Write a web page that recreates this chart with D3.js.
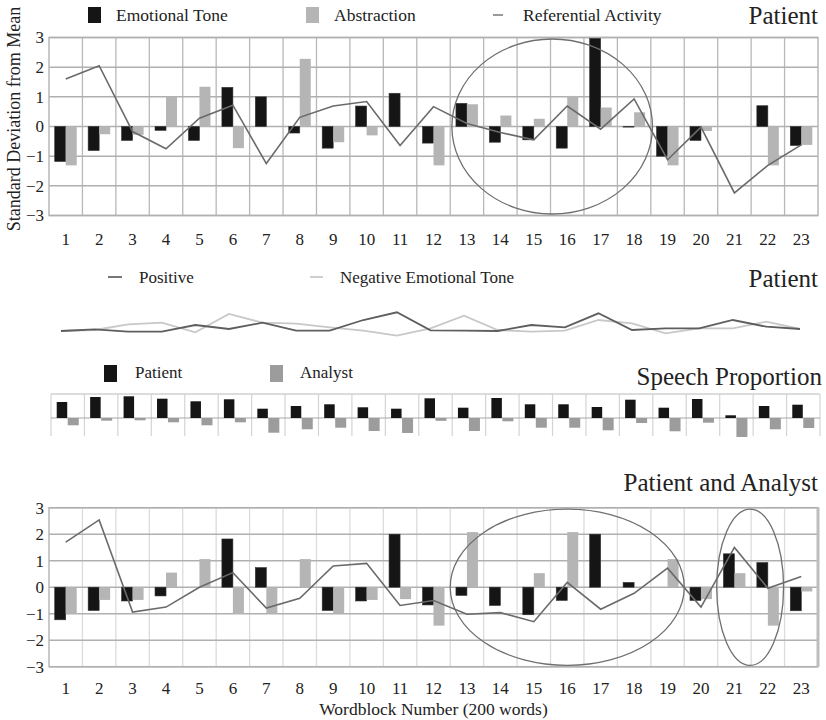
<!DOCTYPE html>
<html><head><meta charset="utf-8">
<script src="https://cdn.jsdelivr.net/npm/d3@7"></script>
<style>
body{margin:0;background:#fff;}
text{font-family:"Liberation Serif","Times New Roman",serif;fill:#222;}
</style></head>
<body>
<svg id="chart" width="826" height="720"></svg>
<script>
const blocks = ["1","2","3","4","5","6","7","8","9","10","11","12","13","14","15","16","17","18","19","20","21","22","23"];
const yTicks = [-3,-2,-1,0,1,2,3];

// Panel 1: Patient
const topTone = [-1.18,-0.81,-0.47,-0.13,-0.47,1.32,1.0,-0.22,-0.73,0.69,1.12,-0.56,0.78,-0.53,-0.45,-0.73,2.97,-0.02,-1.0,-0.47,0,0.7,-0.64];
const topAbstraction = [-1.31,-0.26,-0.28,1.0,1.34,-0.73,0,2.28,-0.53,-0.3,0,-1.31,0.75,0.37,0.26,1.03,0.64,0.48,-1.31,-0.15,0,-1.31,-0.62];
const topReferential = [1.6,2.05,-0.17,-0.75,0.28,0.72,-1.25,0.31,0.69,0.84,-0.64,0.67,0.1,-0.2,-0.45,0.69,-0.09,0.93,-1.12,-0.02,-2.24,-1.31,-0.62];

// Panel 2: Positive / Negative emotional tone (relative level)
const positiveTone = [0,1.7,-0.7,-0.7,6,2,8.3,0.3,0.3,11,18.7,0.7,0.3,0,6,3.7,17.7,1,2.7,2.7,11,4.3,2];
const negativeTone = [0,1,6.7,8.3,-1.3,17,8.3,7.3,3.7,0.3,-4.7,2.7,15.3,1,-0.7,0.3,11,7.7,-2.3,2.7,2.7,9.3,2];

// Panel 3: Speech proportion (relative)
const speechPatient = [16,21,21.7,19.3,16.7,18.7,9.3,12,13.7,10.7,9.3,19.7,10.3,20,13.7,13.7,11,18.3,10.3,19,2.7,12,13.3];
const speechAnalyst = [-7.3,-2.7,-2.3,-4.3,-7.3,-4.3,-14.7,-11.3,-9.7,-13,-15,-2.8,-13,-3.3,-9.7,-9.7,-12.3,-5,-13.3,-4.7,-19,-11.3,-10];

// Panel 4: Patient and Analyst
const botTone = [-1.23,-0.88,-0.52,-0.33,0,1.82,0.74,0,-0.88,-0.52,2.0,-0.67,-0.31,-0.69,-1.04,-0.5,2.0,0.18,0,-0.5,1.26,0.93,-0.89];
const botAbstraction = [-1.0,-0.48,-0.48,0.55,1.06,-1.0,-1.0,1.06,-0.98,-0.48,-0.45,-1.45,2.08,0,0.53,2.08,0,0,1.06,-0.45,0.53,-1.45,-0.16];
const botReferential = [1.7,2.54,-0.94,-0.75,0.0,0.55,-0.79,-0.42,0.8,0.9,-0.69,-0.5,-1.02,-0.96,-1.3,0.18,-0.83,-0.23,0.72,-0.75,1.5,-0.04,0.4];

// Annotation ellipses (block position, value centre, radii in blocks/units)
const topEllipses = [{cx:15.55, cy:0, rx:3.0, ry:2.95}];
const botEllipses = [{cx:16.0, cy:0, rx:3.5, ry:2.95},{cx:21.47, cy:0, rx:1.0, ry:2.95}];

const svg = d3.select("#chart");
const TONE = "#151515", ABS = "#b5b5b5", LINE = "#6a6a6a";

function panel(opts){
  const {y0, y1, tone, abs, ref, ellipses, vGrid} = opts;
  const x = d3.scaleBand().domain(blocks).range([49, 818]);
  const xc = d3.scaleLinear().domain([0.5, 23.5]).range([49, 818]);
  const y = d3.scaleLinear().domain([-3, 3]).range([y1, y0]);
  const g = svg.append("g");
  g.append("rect").attr("x", 49).attr("y", y0).attr("width", 769).attr("height", y1 - y0)
    .attr("fill", "#fff").attr("stroke", "#b8b8b8").attr("stroke-width", 1.5);
  g.selectAll("line.v").data(blocks.slice(1)).join("line")
    .attr("x1", d => x(d)).attr("x2", d => x(d)).attr("y1", y0).attr("y2", y1)
    .attr("stroke", vGrid).attr("stroke-width", 1.3);
  g.selectAll("line.h").data(yTicks).join("line")
    .attr("x1", 49).attr("x2", 818).attr("y1", d => y(d)).attr("y2", d => y(d))
    .attr("stroke", "#b0b0b0").attr("stroke-width", 1.5);
  const bw = 11;
  g.selectAll("rect.t").data(tone).join("rect")
    .attr("x", (d,i) => x(blocks[i]) + x.bandwidth()/2 - bw)
    .attr("width", bw)
    .attr("y", d => y(Math.max(0,d))).attr("height", d => Math.abs(y(d) - y(0)))
    .attr("fill", TONE).attr("stroke", "#333").attr("stroke-width", 0.6);
  g.selectAll("rect.a").data(abs).join("rect")
    .attr("x", (d,i) => x(blocks[i]) + x.bandwidth()/2)
    .attr("width", bw)
    .attr("y", d => y(Math.max(0,d))).attr("height", d => Math.abs(y(d) - y(0)))
    .attr("fill", ABS);
  g.append("path").datum(ref)
    .attr("d", d3.line().x((d,i) => x(blocks[i]) + x.bandwidth()/2).y(d => y(d)))
    .attr("fill", "none").attr("stroke", LINE).attr("stroke-width", 1.6);
  g.selectAll("ellipse").data(ellipses).join("ellipse")
    .attr("cx", d => xc(d.cx)).attr("cy", d => y(d.cy))
    .attr("rx", d => xc(d.cx + d.rx) - xc(d.cx)).attr("ry", d => y(0) - y(d.ry))
    .attr("fill", "none").attr("stroke", "#6f6f6f").attr("stroke-width", 1.3);
  const ya = g.append("g").attr("transform", "translate(49,0)")
    .call(d3.axisLeft(y).tickValues(yTicks).tickSize(0).tickPadding(5).tickFormat(d3.format("d")));
  ya.select(".domain").remove();
  ya.selectAll("text").style("font-family", "Liberation Serif, serif").style("font-size", "17px").attr("fill", "#222");
  const xa = g.append("g").attr("transform", `translate(0,${y1})`)
    .call(d3.axisBottom(x).tickSize(0).tickPadding(opts.xPad));
  xa.select(".domain").remove();
  xa.selectAll("text").style("font-family", "Liberation Serif, serif").style("font-size", "17px").attr("fill", "#222");
  return g;
}

// Top panel
panel({y0: 37.5, y1: 215.5, tone: topTone, abs: topAbstraction, ref: topReferential,
  ellipses: topEllipses, vGrid: "#b8b8b8", xPad: 17});
// Bottom panel
const bp = panel({y0: 507.7, y1: 666.7, tone: botTone, abs: botAbstraction, ref: botReferential,
  ellipses: botEllipses, vGrid: "#dcdcdc", xPad: 15});
bp.append("line").attr("x1", 818).attr("x2", 818).attr("y1", 507.7).attr("y2", 666.7)
  .attr("stroke", "#bdbdbd").attr("stroke-width", 3);

// Top legend
const lg = svg.append("g");
lg.append("rect").attr("x", 88).attr("y", 7).attr("width", 13).attr("height", 16).attr("fill", TONE);
lg.append("text").attr("x", 116).attr("y", 21).style("font-size", "17.5px").text("Emotional Tone");
lg.append("rect").attr("x", 306).attr("y", 7).attr("width", 13).attr("height", 16).attr("fill", ABS);
lg.append("text").attr("x", 334).attr("y", 21).style("font-size", "17.5px").text("Abstraction");
lg.append("line").attr("x1", 493).attr("x2", 503).attr("y1", 15).attr("y2", 15).attr("stroke", "#999").attr("stroke-width", 2);
lg.append("text").attr("x", 523).attr("y", 21).style("font-size", "17.5px").text("Referential Activity");
lg.append("text").attr("x", 818).attr("y", 24).attr("text-anchor", "end").style("font-size", "25px").text("Patient");

// Y axis title
svg.append("text").attr("transform", "translate(20,119) rotate(-90)").attr("text-anchor", "middle")
  .style("font-size", "18px").text("Standard Deviation from Mean");

// Middle panel: positive / negative lines
const xl = d3.scalePoint().domain(blocks).range([61, 800]);
const yl = d3.scaleLinear().domain([0, 20]).range([331, 311]);
const mg = svg.append("g");
mg.append("line").attr("x1", 108).attr("x2", 122).attr("y1", 277).attr("y2", 277).attr("stroke", "#777").attr("stroke-width", 2);
mg.append("text").attr("x", 139).attr("y", 283).style("font-size", "17px").text("Positive");
mg.append("line").attr("x1", 310).attr("x2", 323).attr("y1", 277).attr("y2", 277).attr("stroke", "#cfcfcf").attr("stroke-width", 2);
mg.append("text").attr("x", 340).attr("y", 283).style("font-size", "17px").text("Negative Emotional Tone");
mg.append("text").attr("x", 818).attr("y", 287).attr("text-anchor", "end").style("font-size", "25px").text("Patient");
const ln = d3.line().x((d,i) => xl(blocks[i])).y(d => yl(d));
mg.append("path").datum(negativeTone).attr("d", ln).attr("fill", "none").attr("stroke", "#c8c8c8").attr("stroke-width", 1.8);
mg.append("path").datum(positiveTone).attr("d", ln).attr("fill", "none").attr("stroke", "#5e5e5e").attr("stroke-width", 1.8);

// Speech proportion panel
const xs = d3.scaleBand().domain(blocks).range([51, 820]);
const ys = d3.scaleLinear().domain([0, 24]).range([418, 394]);
const sg = svg.append("g");
sg.append("rect").attr("x", 104).attr("y", 365).attr("width", 13).attr("height", 17).attr("fill", TONE);
sg.append("text").attr("x", 135).attr("y", 378).style("font-size", "17px").text("Patient");
sg.append("rect").attr("x", 270).attr("y", 365).attr("width", 13).attr("height", 17).attr("fill", "#9c9c9c");
sg.append("text").attr("x", 300).attr("y", 378).style("font-size", "17px").text("Analyst");
sg.append("text").attr("x", 822).attr("y", 385).attr("text-anchor", "end").style("font-size", "25px").text("Speech Proportion");
sg.append("line").attr("x1", 51).attr("x2", 820).attr("y1", ys(24)).attr("y2", ys(24)).attr("stroke", "#d0d0d0").attr("stroke-width", 1.3);
sg.selectAll("line.v").data(blocks.concat(["end"])).join("line")
  .attr("x1", d => d === "end" ? 820 : xs(d)).attr("x2", d => d === "end" ? 820 : xs(d))
  .attr("y1", ys(24)).attr("y2", ys(-18)).attr("stroke", "#d4d4d4").attr("stroke-width", 1.2);
sg.append("line").attr("x1", 51).attr("x2", 820).attr("y1", ys(0)).attr("y2", ys(0)).attr("stroke", "#a8a8a8").attr("stroke-width", 1.2);
sg.selectAll("rect.p").data(speechPatient).join("rect")
  .attr("x", (d,i) => xs(blocks[i]) + xs.bandwidth()/2 - 11).attr("width", 10.5)
  .attr("y", d => ys(d)).attr("height", d => ys(0) - ys(d)).attr("fill", TONE);
sg.selectAll("rect.q").data(speechAnalyst).join("rect")
  .attr("x", (d,i) => xs(blocks[i]) + xs.bandwidth()/2).attr("width", 11)
  .attr("y", ys(0)).attr("height", d => ys(d) - ys(0)).attr("fill", "#9c9c9c");

// Bottom title & x title
svg.append("text").attr("x", 818).attr("y", 491).attr("text-anchor", "end").style("font-size", "25px").text("Patient and Analyst");
svg.append("text").attr("x", 433.5).attr("y", 715).attr("text-anchor", "middle").style("font-size", "17.5px").text("Wordblock Number (200 words)");
</script>
</body></html>
